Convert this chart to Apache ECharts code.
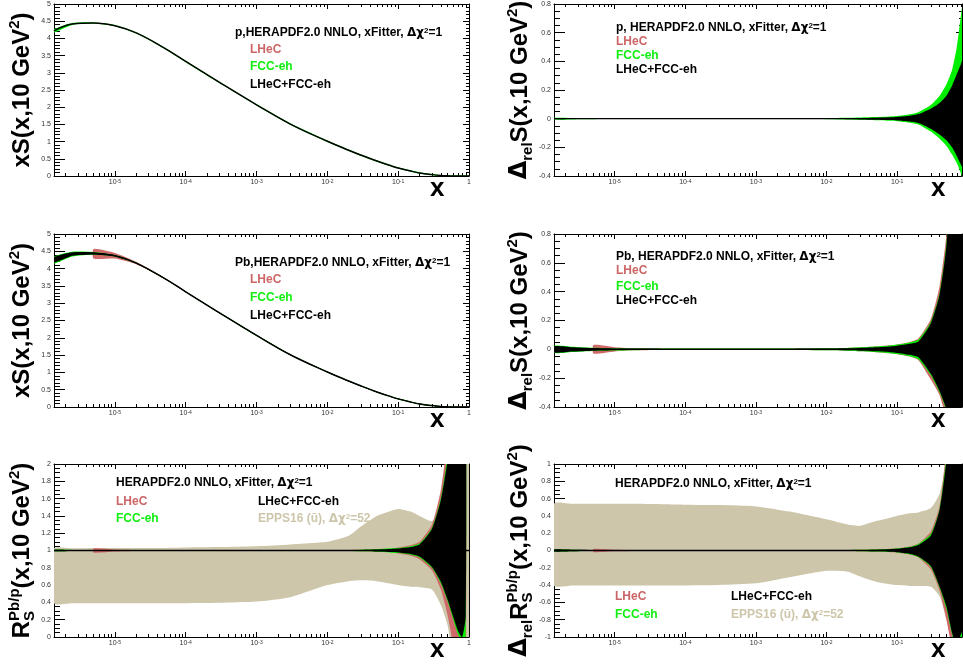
<!DOCTYPE html>
<html>
<head>
<meta charset="utf-8">
<title>xS(x,10 GeV2) LHeC / FCC-eh</title>
<script src="https://cdn.jsdelivr.net/npm/echarts@6/dist/echarts.min.js"></script>
<style>
  html, body { margin: 0; padding: 0; background: #fff; }
  #chart { width: 963px; height: 664px; }
</style>
</head>
<body>
<div id="chart"></div>
<script>
// ---- data ----
const xs = [1.38e-6, 2.5e-6, 5e-6, 1e-5, 2e-5, 5e-5, 1e-4, 3e-4, 1e-3, 3e-3, 1e-2, 2e-2, 3e-2, 5e-2,
  0.08, 0.1, 0.15, 0.2, 0.3, 0.4, 0.5, 0.6, 0.7, 0.8, 0.9, 1.0]
const xMajorTicks = [1e-5, 1e-4, 1e-3, 1e-2, 1e-1, 1]

const relZero = [0, 0, 0, 0, 0, 0, 0, 0, 0, 0, 0, 0, 0, 0, 0, 0, 0, 0, 0, 0, 0, 0, 0, 0, 0, 0]
const relOne = [1, 1, 1, 1, 1, 1, 1, 1, 1, 1, 1, 1, 1, 1, 1, 1, 1, 1, 1, 1, 1, 1, 1, 1, 1, 1]

// proton xS
const pXS = [4.22, 4.42, 4.45, 4.37, 4.16, 3.72, 3.33, 2.72, 2.07, 1.51, 1.01, 0.75, 0.605, 0.435,
  0.295, 0.235, 0.145, 0.09, 0.04, 0.015, 0.005, 0, 0, 0, 0, 0]
const pFccHi = [4.27, 4.45, 4.47, 4.39, 4.18, 3.74, 3.35, 2.74, 2.09, 1.53, 1.03, 0.77, 0.625, 0.455,
  0.315, 0.255, 0.165, 0.11, 0.06, 0.03, 0.02, 0.015, 0.015, 0.015, 0.015, 0.015]
const pFccLo = [4.17, 4.39, 4.43, 4.35, 4.14, 3.70, 3.31, 2.70, 2.05, 1.49, 0.99, 0.73, 0.585, 0.415,
  0.275, 0.215, 0.125, 0.07, 0.02, 0, -0.01, -0.015, -0.015, -0.015, -0.015, -0.015]

// proton relative uncertainty
const pRelAllHi = [0.004, 0.003, 0.003, 0.002, 0.002, 0.002, 0.002, 0.002, 0.002, 0.002, 0.003, 0.004, 0.005, 0.007,
  0.01, 0.012, 0.02, 0.032, 0.07, 0.11, 0.16, 0.23, 0.31, 0.38, 0.45, 0.5]
const pRelAllLo = [-0.004, -0.003, -0.003, -0.002, -0.002, -0.002, -0.002, -0.002, -0.002, -0.002, -0.003, -0.004, -0.005, -0.007,
  -0.01, -0.012, -0.02, -0.03, -0.07, -0.11, -0.15, -0.2, -0.26, -0.32, -0.37, -0.42]
const pRelFccHi = [0.006, 0.005, 0.004, 0.003, 0.003, 0.003, 0.003, 0.003, 0.003, 0.003, 0.004, 0.006, 0.008, 0.011,
  0.015, 0.018, 0.03, 0.045, 0.095, 0.16, 0.24, 0.34, 0.5, 0.72, 0.9, 1.0]
const pRelFccLo = [-0.006, -0.005, -0.004, -0.003, -0.003, -0.003, -0.003, -0.003, -0.003, -0.003, -0.004, -0.006, -0.008, -0.011,
  -0.015, -0.018, -0.028, -0.04, -0.09, -0.14, -0.19, -0.25, -0.31, -0.38, -0.45, -0.5]

// lead xS
const pbXS = [4.25, 4.42, 4.44, 4.37, 4.16, 3.72, 3.33, 2.72, 2.07, 1.51, 1.01, 0.75, 0.605, 0.435,
  0.295, 0.235, 0.145, 0.09, 0.04, 0.015, 0.005, 0, 0, 0, 0, 0]
const pbAllHi = [4.33, 4.47, 4.47, 4.385, 4.17, 3.73, 3.34, 2.73, 2.08, 1.52, 1.02, 0.76, 0.615, 0.445,
  0.305, 0.245, 0.155, 0.10, 0.05, 0.02, 0.01, 0.005, 0.005, 0.005, 0.005, 0.005]
const pbAllLo = [4.17, 4.37, 4.41, 4.355, 4.15, 3.71, 3.32, 2.71, 2.06, 1.50, 1.00, 0.74, 0.595, 0.425,
  0.285, 0.225, 0.135, 0.08, 0.03, 0.01, 0, -0.005, -0.005, -0.005, -0.005, -0.005]
const pbFccHi = [4.35, 4.49, 4.48, 4.39, 4.175, 3.735, 3.345, 2.735, 2.085, 1.525, 1.025, 0.765, 0.62, 0.45,
  0.31, 0.25, 0.16, 0.105, 0.055, 0.025, 0.015, 0.01, 0.01, 0.01, 0.01, 0.01]
const pbFccLo = [4.15, 4.35, 4.40, 4.35, 4.145, 3.705, 3.315, 2.705, 2.055, 1.495, 0.995, 0.735, 0.59, 0.42,
  0.28, 0.22, 0.13, 0.075, 0.025, 0.005, -0.005, -0.01, -0.01, -0.01, -0.01, -0.01]
const pbLhecHi = [null, null, 4.57, 4.45, 4.195, 3.732, 3.336, 2.725, 2.075, 1.515, 1.015, 0.755, 0.61, 0.44,
  0.30, 0.24, 0.15, 0.095, 0.045, 0.02, 0.01, 0.005, 0.005, 0.005, 0.005, 0.005]
const pbLhecLo = [null, null, 4.29, 4.29, 4.125, 3.708, 3.324, 2.715, 2.065, 1.505, 1.005, 0.745, 0.60, 0.43,
  0.29, 0.23, 0.14, 0.085, 0.035, 0.01, 0, -0.005, -0.005, -0.005, -0.005, -0.005]

// lead relative uncertainty
const pbRelAllHi = [0.022, 0.015, 0.009, 0.006, 0.005, 0.004, 0.004, 0.004, 0.004, 0.004, 0.005, 0.007, 0.01, 0.014,
  0.02, 0.025, 0.038, 0.055, 0.18, 0.38, 0.72, 1.4, 2.0, 2.5, 3.0, 3.5]
const pbRelAllLo = [-0.022, -0.015, -0.009, -0.006, -0.005, -0.004, -0.004, -0.004, -0.004, -0.004, -0.005, -0.007, -0.01, -0.014,
  -0.02, -0.025, -0.038, -0.055, -0.17, -0.29, -0.42, -0.7, -1.0, -1.3, -1.6, -2.0]
const pbRelFccHi = [0.025, 0.018, 0.011, 0.008, 0.006, 0.005, 0.005, 0.005, 0.005, 0.005, 0.007, 0.01, 0.014, 0.02,
  0.027, 0.033, 0.048, 0.068, 0.19, 0.39, 0.74, 1.4, 2.0, 2.5, 3.0, 3.5]
const pbRelFccLo = [-0.025, -0.018, -0.011, -0.008, -0.006, -0.005, -0.005, -0.005, -0.005, -0.005, -0.007, -0.01, -0.014, -0.02,
  -0.027, -0.033, -0.048, -0.068, -0.18, -0.30, -0.43, -0.7, -1.0, -1.3, -1.6, -2.0]
const pbRelLhecHi = [null, null, 0.03, 0.015, 0.007, 0.005, 0.005, 0.005, 0.005, 0.005, 0.007, 0.01, 0.014, 0.02,
  0.028, 0.034, 0.05, 0.075, 0.21, 0.44, 0.8, 1.5, 2.0, 2.5, 3.0, 3.5]
const pbRelLhecLo = [null, null, -0.03, -0.015, -0.007, -0.005, -0.005, -0.005, -0.005, -0.005, -0.007, -0.01, -0.014, -0.02,
  -0.028, -0.034, -0.05, -0.075, -0.21, -0.32, -0.5, -0.9, -1.2, -1.5, -1.8, -2.1]

// ratio Pb/p
const rEppsHi = [1.025, 1.025, 1.03, 1.03, 1.03, 1.03, 1.035, 1.04, 1.05, 1.07, 1.1, 1.17, 1.28, 1.4,
  1.46, 1.48, 1.45, 1.40, 1.34, 1.45, 2.1, 2.6, 3, 3, 3, 3]
const rEppsLo = [0.39, 0.39, 0.39, 0.39, 0.39, 0.39, 0.39, 0.395, 0.41, 0.46, 0.6, 0.645, 0.655, 0.645,
  0.615, 0.6, 0.58, 0.575, 0.55, 0.37, 0.13, -0.3, -0.6, -0.8, -1, -1]
const rLhecHi = [null, null, 1.025, 1.012, 1.006, 1.003, 1.003, 1.003, 1.003, 1.003, 1.004, 1.006, 1.008, 1.012,
  1.02, 1.035, 1.06, 1.1, 1.3, 1.7, 2.3, 2.8, 3, 3, 3, null]
const rLhecLo = [null, null, 0.975, 0.988, 0.994, 0.997, 0.997, 0.997, 0.997, 0.997, 0.996, 0.994, 0.992, 0.988,
  0.98, 0.965, 0.94, 0.9, 0.77, 0.55, 0.25, -0.1, -0.4, -0.6, -0.7, null]
const rFccHi = [1.01, 1.007, 1.005, 1.004, 1.003, 1.003, 1.003, 1.003, 1.003, 1.003, 1.004, 1.006, 1.01, 1.015,
  1.025, 1.03, 1.05, 1.08, 1.26, 1.6, 2.1, 2.6, 3, 3, 3, null]
const rFccLo = [0.99, 0.993, 0.995, 0.996, 0.997, 0.997, 0.997, 0.997, 0.997, 0.997, 0.996, 0.994, 0.99, 0.985,
  0.975, 0.97, 0.95, 0.92, 0.8, 0.62, 0.41, 0.2, 0.03, -0.05, 0.0, null]
const rAllHi = [1.008, 1.005, 1.004, 1.003, 1.002, 1.002, 1.002, 1.002, 1.002, 1.002, 1.003, 1.005, 1.007, 1.012,
  1.018, 1.022, 1.04, 1.07, 1.25, 1.58, 2.05, 2.6, 3, 3, 3, null]
const rAllLo = [0.992, 0.995, 0.996, 0.997, 0.998, 0.998, 0.998, 0.998, 0.998, 0.998, 0.997, 0.995, 0.993, 0.988,
  0.982, 0.978, 0.96, 0.93, 0.81, 0.64, 0.43, 0.23, 0.07, 0.0, 0.25, null]

// relative uncertainty of the ratio
const drEppsHi = [0.54, 0.54, 0.54, 0.54, 0.54, 0.535, 0.53, 0.525, 0.51, 0.45, 0.36, 0.30, 0.285, 0.34,
  0.38, 0.40, 0.43, 0.44, 0.49, 0.66, 1.05, 1.6, 2, 2, 2, 2]
const drEppsLo = [-0.405, -0.405, -0.405, -0.405, -0.405, -0.405, -0.405, -0.40, -0.38, -0.31, -0.235, -0.245, -0.3, -0.36,
  -0.39, -0.4, -0.41, -0.41, -0.42, -0.53, -0.8, -1.1, -1.5, -2, -2, -2]
const drLhecHi = [null, null, 0.02, 0.01, 0.005, 0.003, 0.003, 0.003, 0.003, 0.003, 0.004, 0.006, 0.008, 0.012,
  0.02, 0.025, 0.045, 0.08, 0.22, 0.52, 1.2, 2, 2, 2, 2, 2]
const drLhecLo = [null, null, -0.02, -0.01, -0.005, -0.003, -0.003, -0.003, -0.003, -0.003, -0.004, -0.006, -0.008, -0.012,
  -0.02, -0.025, -0.045, -0.08, -0.22, -0.47, -0.8, -1.15, -1.5, -2, -2, -2]
const drFccHi = [0.014, 0.01, 0.007, 0.005, 0.004, 0.003, 0.003, 0.003, 0.003, 0.003, 0.004, 0.006, 0.008, 0.012,
  0.018, 0.023, 0.042, 0.075, 0.19, 0.48, 1.1, 2, 2, 2, 2, 2]
const drFccLo = [-0.014, -0.01, -0.007, -0.005, -0.004, -0.003, -0.003, -0.003, -0.003, -0.003, -0.004, -0.006, -0.008, -0.012,
  -0.018, -0.023, -0.042, -0.075, -0.19, -0.43, -0.68, -0.97, -1.15, -1.1, -1.1, -1.1]
const drAllHi = [0.012, 0.008, 0.006, 0.004, 0.003, 0.002, 0.002, 0.002, 0.002, 0.002, 0.003, 0.005, 0.007, 0.01,
  0.015, 0.02, 0.038, 0.065, 0.17, 0.47, 1.05, 2, 2, 2, 2, 2]
const drAllLo = [-0.012, -0.008, -0.006, -0.004, -0.003, -0.002, -0.002, -0.002, -0.002, -0.002, -0.003, -0.005, -0.007, -0.01,
  -0.015, -0.02, -0.038, -0.07, -0.18, -0.42, -0.65, -0.95, -1.1, -0.97, -0.9, -0.9]

// ---- style ----
const SANS = 'Liberation Sans, Arial, Helvetica, sans-serif'
const SYM = 'DejaVu Sans, sans-serif'
const COL = { lhec: '#d06a6a', fcc: '#00ee00', all: '#000000', epps: '#cdc6aa' }
const TXT = { lhec: '#cc6666', fcc: '#11ee11', epps: '#cdc6aa' }
const X_MIN = 1.38e-6

const GRIDS = [
  { left: 54, top: 4, width: 415, height: 172 },
  { left: 554, top: 4, width: 408, height: 172 },
  { left: 54, top: 234, width: 415, height: 173 },
  { left: 554, top: 234, width: 408, height: 173 },
  { left: 54, top: 464, width: 415, height: 173 },
  { left: 554, top: 464, width: 408, height: 173 },
]

const nameRich = {
  sup: { fontSize: 15, fontWeight: 'bold', fontFamily: SANS, verticalAlign: 'top', color: '#000' },
  sub: { fontSize: 15, fontWeight: 'bold', fontFamily: SANS, verticalAlign: 'bottom', color: '#000' },
  subS: { fontSize: 15, fontWeight: 'bold', fontFamily: SANS, verticalAlign: 'bottom', color: '#000', padding: [0, -10, 0, 0] },
  d: { fontSize: 24, fontFamily: SYM, color: '#000' },
}

// panel settings: x max, y range, label step, minor split, axis title
const PANELS = [
  { xMax: 1, yMin: 0, yMax: 5, step: 0.5, minor: 5, name: 'xS(x,10 GeV{sup|2})' },
  { xMax: 0.83, yMin: -0.4, yMax: 0.8, step: 0.2, minor: 4, name: '{d|Δ}{sub|rel}S(x,10 GeV{sup|2})' },
  { xMax: 1, yMin: 0, yMax: 5, step: 0.5, minor: 5, name: 'xS(x,10 GeV{sup|2})' },
  { xMax: 0.83, yMin: -0.4, yMax: 0.8, step: 0.2, minor: 4, name: '{d|Δ}{sub|rel}S(x,10 GeV{sup|2})' },
  { xMax: 1, yMin: 0, yMax: 2, step: 0.2, minor: 4, name: 'R{subS|S}{sup|Pb/p}(x,10 GeV{sup|2})' },
  { xMax: 0.83, yMin: -1, yMax: 1, step: 0.2, minor: 4, name: '{d|Δ}{sub|rel}R{subS|S}{sup|Pb/p}(x,10 GeV{sup|2})' },
]

// minor ticks 2..9 in every decade
const xMinorTicks = []
for (let e = -6; e < 0; e++) {
  for (let d = 2; d <= 9; d++) {
    const v = d * Math.pow(10, e)
    if (v > X_MIN) xMinorTicks.push(v)
  }
}

const line = { color: '#000', width: 1 }

function xAxesFor(gi, p) {
  const common = {
    gridIndex: gi, type: 'log', logBase: 10, min: X_MIN, max: p.xMax,
    splitLine: { show: false },
    axisLine: { show: false, onZero: false },
    axisLabel: { show: false },
    axisTick: { show: false },
  }
  const majorTick = { show: true, inside: true, length: 5, customValues: xMajorTicks, lineStyle: line }
  const minorTick = { show: true, inside: true, length: 3, customValues: xMinorTicks, lineStyle: line }
  return [
    Object.assign({}, common, {
      position: 'bottom',
      axisLine: { show: true, onZero: false, lineStyle: line },
      axisTick: majorTick,
      axisLabel: {
        show: true, customValues: xMajorTicks, margin: 3, fontSize: 7, color: '#333', fontFamily: SANS,
        formatter: (v) => {
          const e = Math.round(Math.log10(v))
          return e === 0 ? '1' : '10{s|' + e + '}'
        },
        rich: { s: { fontSize: 5, verticalAlign: 'top', color: '#333', fontFamily: SANS } },
      },
      name: 'x', nameLocation: 'end', nameGap: gi % 2 === 0 ? -39 : -31,
      nameTextStyle: { fontSize: 26, fontWeight: 'bold', fontFamily: SANS, color: '#000', align: 'left', verticalAlign: 'top' },
    }),
    Object.assign({}, common, { position: 'bottom', axisTick: minorTick }),
    Object.assign({}, common, { position: 'top', axisLine: { show: true, onZero: false, lineStyle: line }, axisTick: majorTick }),
    Object.assign({}, common, { position: 'top', axisTick: minorTick }),
  ]
}

function yAxesFor(gi, p) {
  const common = {
    gridIndex: gi, type: 'value', min: p.yMin, max: p.yMax, interval: p.step,
    splitLine: { show: false },
    axisLine: { show: true, onZero: false, lineStyle: line },
  }
  return [
    Object.assign({}, common, {
      position: 'left',
      axisTick: { inside: true, length: 11, lineStyle: line },
      minorTick: { show: true, splitNumber: p.minor, length: 6, lineStyle: line },
      axisLabel: { fontSize: 7, color: '#333', margin: 3, fontFamily: SANS },
      name: p.name, nameLocation: 'middle', nameRotate: 90, nameGap: 9,
      nameTextStyle: { fontSize: 24, fontWeight: 'bold', fontFamily: SANS, color: '#000', lineHeight: 30, rich: nameRich },
    }),
    Object.assign({}, common, {
      position: 'right',
      axisTick: { inside: true, length: 6, lineStyle: line },
      minorTick: { show: true, splitNumber: p.minor, length: 3, lineStyle: line },
      axisLabel: { show: false },
    }),
  ]
}

// a filled band between lo and hi: one custom series drawing a polygon
function band(gi, lo, hi, color) {
  return {
    type: 'custom', xAxisIndex: gi * 4, yAxisIndex: gi * 2,
    clip: true, silent: true,
    data: xs.map((x, i) => [x, lo[i] == null ? NaN : lo[i], hi[i] == null ? NaN : hi[i]]),
    encode: { x: 0, y: [1, 2] },
    renderItem: (params, api) => {
      if (params.dataIndexInside !== 0) return null
      const top = []
      const bottom = []
      for (let i = 0; i < params.dataInsideLength; i++) {
        const x = api.value(0, i)
        const l = api.value(1, i)
        const h = api.value(2, i)
        if (isNaN(l) || isNaN(h)) continue
        top.push(api.coord([x, h]))
        bottom.push(api.coord([x, l]))
      }
      return {
        type: 'polygon',
        shape: { points: top.concat(bottom.reverse()), smooth: 0.2 },
        style: { fill: color, stroke: null },
      }
    },
  }
}

function curve(gi, ys, width) {
  return {
    type: 'line', xAxisIndex: gi * 4, yAxisIndex: gi * 2,
    data: xs.map((x, i) => [x, ys[i]]),
    symbol: 'none', smooth: 0.4, silent: true,
    lineStyle: { color: '#000', width: width },
  }
}

function label(text, left, top, color) {
  return {
    text: text, left: left, top: top, padding: 0,
    textStyle: {
      fontSize: 12, fontWeight: 'bold', fontFamily: SANS, color: color,
      rich: {
        g: { fontSize: 12, fontFamily: SYM, color: color },
        sup: { fontSize: 8, fontWeight: 'bold', fontFamily: SANS, verticalAlign: 'top', color: color },
      },
    },
  }
}

const titles = [
  label('p,HERAPDF2.0 NNLO, xFitter, {g|Δχ}{sup|2}=1', 235, 27, '#000'),
  label('LHeC', 250, 44, TXT.lhec),
  label('FCC-eh', 250, 61, TXT.fcc),
  label('LHeC+FCC-eh', 250, 79, '#000'),

  label('p, HERAPDF2.0 NNLO, xFitter, {g|Δχ}{sup|2}=1', 616, 22, '#000'),
  label('LHeC', 616, 36, TXT.lhec),
  label('FCC-eh', 616, 50, TXT.fcc),
  label('LHeC+FCC-eh', 616, 64, '#000'),

  label('Pb,HERAPDF2.0 NNLO, xFitter, {g|Δχ}{sup|2}=1', 235, 257, '#000'),
  label('LHeC', 250, 274, TXT.lhec),
  label('FCC-eh', 250, 292, TXT.fcc),
  label('LHeC+FCC-eh', 250, 310, '#000'),

  label('Pb, HERAPDF2.0 NNLO, xFitter, {g|Δχ}{sup|2}=1', 616, 251, '#000'),
  label('LHeC', 616, 265, TXT.lhec),
  label('FCC-eh', 616, 281, TXT.fcc),
  label('LHeC+FCC-eh', 616, 295, '#000'),

  label('HERAPDF2.0 NNLO, xFitter, {g|Δχ}{sup|2}=1', 116, 477, '#000'),
  label('LHeC', 116, 496, TXT.lhec),
  label('FCC-eh', 116, 513, TXT.fcc),
  label('LHeC+FCC-eh', 258, 496, '#000'),
  label('EPPS16 (ū), {g|Δχ}{sup|2}=52', 258, 513, TXT.epps),

  label('HERAPDF2.0 NNLO, xFitter, {g|Δχ}{sup|2}=1', 615, 478, '#000'),
  label('LHeC', 615, 591, TXT.lhec),
  label('FCC-eh', 615, 609, TXT.fcc),
  label('LHeC+FCC-eh', 731, 591, '#000'),
  label('EPPS16 (ū), {g|Δχ}{sup|2}=52', 731, 609, TXT.epps),
]

let xAxis = []
let yAxis = []
PANELS.forEach((p, gi) => {
  xAxis = xAxis.concat(xAxesFor(gi, p))
  yAxis = yAxis.concat(yAxesFor(gi, p))
})

const series = [
  // p, xS
  band(0, pFccLo, pFccHi, COL.fcc),
  curve(0, pXS, 1.5),
  // p, relative
  band(1, pRelFccLo, pRelFccHi, COL.fcc),
  band(1, pRelAllLo, pRelAllHi, COL.all),
  curve(1, relZero, 1.2),
  // Pb, xS
  band(2, pbLhecLo, pbLhecHi, COL.lhec),
  band(2, pbFccLo, pbFccHi, COL.fcc),
  band(2, pbAllLo, pbAllHi, COL.all),
  curve(2, pbXS, 1.5),
  // Pb, relative
  band(3, pbRelLhecLo, pbRelLhecHi, COL.lhec),
  band(3, pbRelFccLo, pbRelFccHi, COL.fcc),
  band(3, pbRelAllLo, pbRelAllHi, COL.all),
  curve(3, relZero, 1.2),
  // ratio
  band(4, rEppsLo, rEppsHi, COL.epps),
  band(4, rLhecLo, rLhecHi, COL.lhec),
  band(4, rFccLo, rFccHi, COL.fcc),
  band(4, rAllLo, rAllHi, COL.all),
  curve(4, relOne, 1.5),
  // ratio, relative
  band(5, drEppsLo, drEppsHi, COL.epps),
  band(5, drLhecLo, drLhecHi, COL.lhec),
  band(5, drFccLo, drFccHi, COL.fcc),
  band(5, drAllLo, drAllHi, COL.all),
  curve(5, relZero, 1.5),
]

const chart = echarts.init(document.getElementById('chart'))
chart.setOption({
  animation: false,
  backgroundColor: '#fff',
  title: titles,
  grid: GRIDS.map(g => Object.assign({ containLabel: false, outerBoundsMode: 'none' }, g)),
  xAxis: xAxis,
  yAxis: yAxis,
  series: series,
})
</script>
</body>
</html>
